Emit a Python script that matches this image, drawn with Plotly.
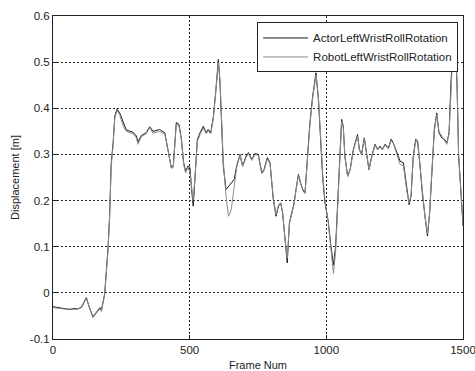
import plotly.graph_objects as go

frames = [0, 20, 40, 61, 75, 91, 105, 115, 122, 132, 146, 155, 165, 172, 177, 189, 201, 207, 213, 220,
          226, 234, 244, 256, 268, 293, 305, 311, 323, 341, 354, 366, 390, 409, 421, 433, 440, 451, 461, 470,
          478, 485, 494, 501, 507, 513, 520, 528, 538, 550, 560, 568, 577, 587, 596, 605, 611, 617, 623, 633,
          642, 652, 663, 672, 684, 694, 706, 715, 727, 739, 751, 764, 772, 784, 794, 806, 816, 825, 833, 840,
          849, 857, 865, 873, 882, 889, 898, 906, 914, 922, 931, 940, 950, 962, 971, 979, 987, 995, 1007, 1017,
          1026, 1034, 1042, 1050, 1056, 1062, 1068, 1078, 1087, 1099, 1114, 1121, 1129, 1139, 1148, 1156, 1166, 1178, 1188, 1196,
          1205, 1215, 1227, 1237, 1245, 1257, 1270, 1282, 1294, 1303, 1310, 1318, 1327, 1334, 1343, 1351, 1361, 1370, 1378, 1385,
          1395, 1404, 1412, 1422, 1432, 1441, 1449, 1456, 1461, 1467, 1472, 1478, 1484, 1492, 1500]

actor = [-0.030, -0.032, -0.033, -0.036, -0.034, -0.035, -0.030, -0.018, -0.010, -0.030, -0.052, -0.045, -0.036, -0.032, -0.038, -0.002, 0.094, 0.166, 0.282, 0.325,
         0.383, 0.398, 0.390, 0.369, 0.353, 0.348, 0.340, 0.327, 0.341, 0.347, 0.360, 0.350, 0.354, 0.347, 0.311, 0.271, 0.275, 0.369, 0.365, 0.333,
         0.282, 0.264, 0.275, 0.272, 0.224, 0.188, 0.253, 0.332, 0.347, 0.361, 0.347, 0.354, 0.347, 0.383, 0.441, 0.506, 0.455, 0.361, 0.275, 0.224,
         0.231, 0.238, 0.246, 0.275, 0.300, 0.275, 0.296, 0.304, 0.289, 0.302, 0.300, 0.260, 0.267, 0.293, 0.282, 0.202, 0.166, 0.188, 0.195, 0.173,
         0.108, 0.065, 0.152, 0.173, 0.195, 0.224, 0.257, 0.238, 0.224, 0.217, 0.296, 0.369, 0.426, 0.477, 0.419, 0.325, 0.246, 0.195, 0.155, 0.100,
         0.060, 0.101, 0.202, 0.325, 0.376, 0.361, 0.296, 0.253, 0.267, 0.311, 0.343, 0.311, 0.300, 0.336, 0.304, 0.267, 0.296, 0.322, 0.311, 0.318,
         0.311, 0.322, 0.314, 0.333, 0.325, 0.304, 0.285, 0.282, 0.224, 0.191, 0.210, 0.296, 0.333, 0.329, 0.275, 0.217, 0.166, 0.123, 0.173, 0.253,
         0.354, 0.390, 0.347, 0.336, 0.333, 0.325, 0.347, 0.455, 0.513, 0.580, 0.540, 0.455, 0.296, 0.210, 0.145]

robot = [-0.032, -0.034, -0.035, -0.035, -0.036, -0.035, -0.032, -0.020, -0.012, -0.030, -0.054, -0.047, -0.038, -0.034, -0.040, -0.005, 0.090, 0.160, 0.275, 0.320,
         0.378, 0.395, 0.386, 0.363, 0.350, 0.345, 0.336, 0.322, 0.338, 0.345, 0.358, 0.346, 0.350, 0.344, 0.308, 0.270, 0.272, 0.365, 0.362, 0.330,
         0.278, 0.260, 0.272, 0.262, 0.230, 0.200, 0.255, 0.328, 0.343, 0.357, 0.345, 0.350, 0.345, 0.380, 0.438, 0.500, 0.460, 0.370, 0.285, 0.210,
         0.166, 0.180, 0.238, 0.272, 0.298, 0.274, 0.293, 0.302, 0.287, 0.300, 0.298, 0.258, 0.265, 0.290, 0.280, 0.205, 0.170, 0.190, 0.195, 0.175,
         0.115, 0.075, 0.150, 0.172, 0.192, 0.222, 0.255, 0.236, 0.222, 0.215, 0.292, 0.365, 0.422, 0.472, 0.425, 0.335, 0.255, 0.200, 0.152, 0.094,
         0.042, 0.090, 0.195, 0.320, 0.372, 0.358, 0.295, 0.252, 0.266, 0.309, 0.340, 0.309, 0.300, 0.334, 0.302, 0.266, 0.294, 0.320, 0.310, 0.316,
         0.310, 0.320, 0.312, 0.330, 0.324, 0.300, 0.278, 0.276, 0.222, 0.195, 0.212, 0.294, 0.330, 0.326, 0.273, 0.215, 0.165, 0.128, 0.175, 0.252,
         0.350, 0.386, 0.350, 0.340, 0.330, 0.322, 0.345, 0.450, 0.510, 0.575, 0.545, 0.460, 0.300, 0.215, 0.150]

y_ticks = [-0.1, 0, 0.1, 0.2, 0.3, 0.4, 0.5, 0.6]
y_tick_labels = ["-0.1", "0", "0.1", "0.2", "0.3", "0.4", "0.5", "0.6"]
x_ticks = [0, 500, 1000, 1500]
x_tick_labels = ["0", "500", "1000", "1500"]

font = "Liberation Sans, Arial, sans-serif"

fig = go.Figure()
fig.add_trace(go.Scatter(x=frames, y=actor, mode="lines", name="ActorLeftWristRollRotation",
                         line=dict(color="#1a1a1a", width=1)))
fig.add_trace(go.Scatter(x=frames, y=robot, mode="lines", name="RobotLeftWristRollRotation",
                         line=dict(color="#8c8c8c", width=1)))

fig.update_layout(
    width=475, height=371,
    margin=dict(l=53, r=12, t=16, b=32, autoexpand=False),
    paper_bgcolor="white", plot_bgcolor="white",
    font=dict(family=font, size=11, color="#222"),
    showlegend=True,
    legend=dict(x=0.988, xanchor="right", y=0.98, yanchor="top",
                bgcolor="white", bordercolor="#222", borderwidth=1,
                font=dict(family=font, size=11.5, color="#222"),
                tracegroupgap=0, itemwidth=45),
    xaxis=dict(range=[0, 1500], tickvals=x_ticks, ticktext=x_tick_labels, automargin=False,
               ticklabeloverflow="allow",
               showgrid=True, gridcolor="#222", gridwidth=1, griddash="2px,2px",
               zeroline=False, showline=True, linecolor="#222", linewidth=1, mirror=True,
               ticks="inside", ticklen=4, tickcolor="#222", tickfont=dict(size=11.5),
               title=dict(text="Frame Num", font=dict(size=11), standoff=6)),
    yaxis=dict(range=[-0.1, 0.6], tickvals=y_ticks, ticktext=y_tick_labels, automargin=False,
               ticklabeloverflow="allow",
               showgrid=True, gridcolor="#222", gridwidth=1, griddash="2px,2px",
               zeroline=False, showline=True, linecolor="#222", linewidth=1, mirror=True,
               ticks="inside", ticklen=4, tickcolor="#222", tickfont=dict(size=11.5),
               title=dict(text="Displacement [m]", font=dict(size=11), standoff=8)),
)

fig.write_html("out.html", config={"displayModeBar": False},
               post_script="document.body.style.margin='0';document.body.style.padding='0';")
